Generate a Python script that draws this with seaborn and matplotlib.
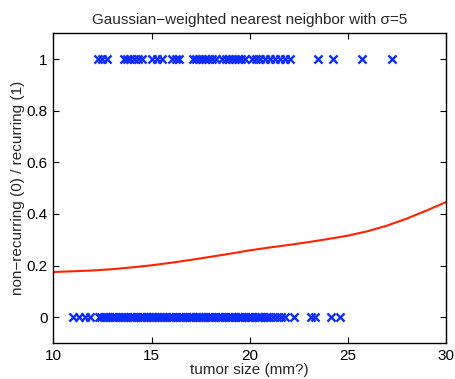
import numpy as np
import pandas as pd
import matplotlib
matplotlib.use("Agg")
import matplotlib.pyplot as plt
import seaborn as sns

# recurring (label 1) tumor sizes
recurring_sizes = [
    12.28, 12.48, 12.74,
    13.60, 13.76, 13.91, 14.11, 14.32, 14.52,
    15.03, 15.29, 15.54,
    16.05, 16.25, 16.40,
    17.12, 17.27, 17.43, 17.58, 17.73, 17.89, 18.09, 18.29,
    18.60, 18.80, 18.95, 19.10, 19.26, 19.41, 19.57, 19.77,
    20.13, 20.33, 20.54, 20.79, 21.04, 21.30, 21.55, 21.81, 22.06,
    23.49, 24.26, 25.73, 27.26,
]

# non-recurring (label 0) tumor sizes
nonrecurring_sizes = [
    11.00, 11.30, 11.60, 11.85,
    12.30, 12.45, 12.60, 12.70, 12.85, 13.00, 13.10, 13.20, 13.35, 13.50,
    13.60, 13.75, 13.90, 14.00, 14.10, 14.25, 14.40, 14.50, 14.60, 14.75,
    14.90, 15.00, 15.10, 15.20, 15.35, 15.50, 15.60, 15.75, 15.90, 16.00,
    16.10, 16.25, 16.40, 16.50, 16.60, 16.75, 16.90, 17.00, 17.10, 17.25,
    17.40, 17.50, 17.60, 17.75, 17.90, 18.00, 18.10, 18.25, 18.40, 18.50,
    18.60, 18.75, 18.90, 19.00, 19.10, 19.25, 19.40, 19.50, 19.60, 19.75,
    19.90, 20.00, 20.10, 20.25, 20.40, 20.50, 20.60, 20.75, 20.90, 21.00,
    21.20, 21.40, 21.60, 21.80,
    22.27, 23.10, 23.35, 24.15, 24.60,
]

# smoothed estimate
curve_x = [10, 11, 12, 13, 14, 15, 16, 17, 18, 19, 20,
           21, 22, 23, 24, 25, 26, 27, 28, 29, 30]
curve_y = [0.175, 0.178, 0.181, 0.186, 0.193, 0.201, 0.211, 0.222, 0.234, 0.246, 0.259,
           0.270, 0.280, 0.291, 0.303, 0.316, 0.333, 0.355, 0.382, 0.413, 0.446]

x_ticks = [10, 15, 20, 25, 30]
y_ticks = [0, 0.2, 0.4, 0.6, 0.8, 1]
y_ticklabels = ["0", "0.2", "0.4", "0.6", "0.8", "1"]

sns.set_theme(style="white")
plt.rcParams["font.family"] = ["Liberation Sans", "DejaVu Sans"]
plt.rcParams["xtick.direction"] = "in"
plt.rcParams["ytick.direction"] = "in"

points = pd.DataFrame({
    "size": recurring_sizes + nonrecurring_sizes,
    "label": [1] * len(recurring_sizes) + [0] * len(nonrecurring_sizes),
})
curve = pd.DataFrame({"size": curve_x, "p": curve_y})

fig = plt.figure(figsize=(4.56, 3.79), dpi=100)
ax = fig.add_axes([0.117, 0.095, 0.861, 0.817])

sns.scatterplot(data=points, x="size", y="label", marker="x", color="#0a2cff",
                s=34, linewidth=1.7, ax=ax, legend=False, zorder=3)
sns.lineplot(data=curve, x="size", y="p", color="#ff2200", linewidth=1.5,
             ax=ax, legend=False, zorder=2)

ax.set_xlim(10, 30)
ax.set_ylim(-0.1, 1.1)
ax.set_xticks(x_ticks)
ax.set_xticklabels([str(t) for t in x_ticks])
ax.set_yticks(y_ticks)
ax.set_yticklabels(y_ticklabels)
ax.tick_params(axis="both", which="both", direction="in", length=4, width=0.8,
               labelsize=11, colors="black", top=True, right=True,
               bottom=True, left=True, pad=4)
for sp in ax.spines.values():
    sp.set_visible(True)
    sp.set_color("black")
    sp.set_linewidth(1.0)

ax.set_xlabel("tumor size (mm?)", fontsize=11, labelpad=0)
ax.set_ylabel("non\u2212recurring (0) / recurring (1)", fontsize=11, labelpad=1)
ax.set_title("Gaussian\u2212weighted nearest neighbor with \u03c3=5", fontsize=11, pad=7)

fig.savefig("out.png", dpi=100)
